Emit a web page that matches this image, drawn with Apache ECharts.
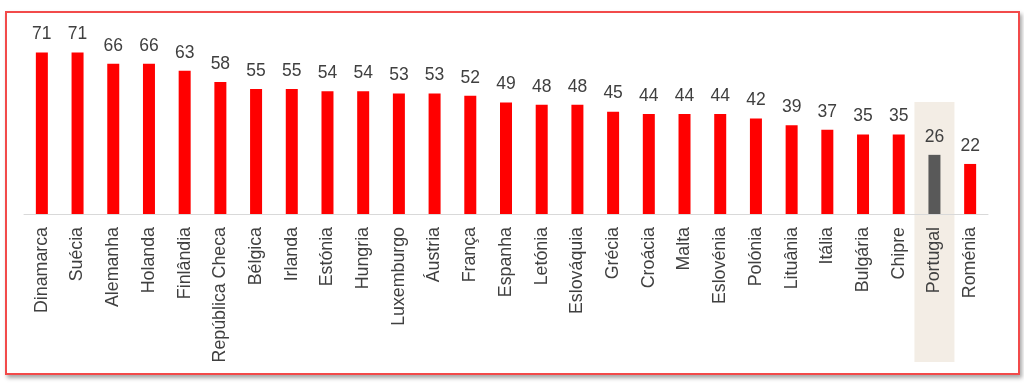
<!DOCTYPE html>
<html><head><meta charset="utf-8">
<script src="https://cdn.jsdelivr.net/npm/echarts@6/dist/echarts.min.js"></script>
<style>
html,body{margin:0;padding:0;background:#fff;width:1024px;height:383px;overflow:hidden}
#frame{position:absolute;left:5px;top:11px;width:1011px;height:360px;border:2px solid #f24a4a;box-shadow:2px 3px 4px rgba(0,0,0,0.35);background:#fff}
#chart{position:absolute;left:0;top:0;width:1024px;height:383px}
</style></head>
<body>
<div id="frame"></div>
<div id="chart"></div>
<script>
const categories = ["Dinamarca","Suécia","Alemanha","Holanda","Finlândia","República Checa","Bélgica","Irlanda","Estónia","Hungria","Luxemburgo","Áustria","França","Espanha","Letónia","Eslováquia","Grécia","Croácia","Malta","Eslovénia","Polónia","Lituânia","Itália","Bulgária","Chipre","Portugal","Roménia"];
const values = [71,71,66,66,63,58,55,55,54,54,53,53,52,49,48,48,45,44,44,44,42,39,37,35,35,26,22];
const highlight = "Portugal";

const chart = echarts.init(document.getElementById('chart'), null, {renderer:'canvas'});
const data = values.map((v,i)=>({value:v,itemStyle:{color: categories[i]===highlight ? '#595959' : '#ff0000'}}));
chart.setOption({
  backgroundColor:'transparent',
  animation:false,
  grid:{left:24,right:36,top:32,bottom:169},
  xAxis:{type:'category',data:categories,z:10,
    axisLine:{lineStyle:{color:'#d9d9d9',width:1}},
    axisTick:{show:false},
    axisLabel:{rotate:90,interval:0,margin:13,color:'#404040',fontSize:17.8,fontFamily:'Liberation Sans, Arial, sans-serif'}},
  yAxis:{type:'value',min:0,max:80,show:false,splitLine:{show:false}},
  series:[{type:'bar',data:data,barWidth:12,z:3,
    label:{show:true,position:'top',distance:9,color:'#404040',fontSize:17.5,fontFamily:'Liberation Sans, Arial, sans-serif'}}]
});
const idx = categories.indexOf(highlight);
const cx = chart.convertToPixel({xAxisIndex:0}, categories[idx]);
chart.setOption({graphic:[{type:'rect',z:-1,zlevel:0,shape:{x:cx-20,y:102,width:40,height:260},style:{fill:'#f3ede5'}}]});
</script>
</body></html>
